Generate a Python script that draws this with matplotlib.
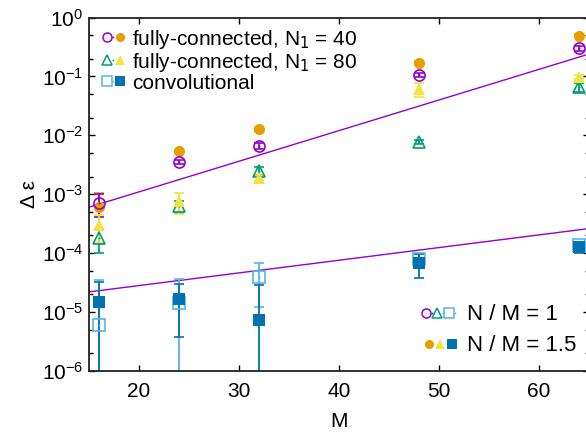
import matplotlib
matplotlib.use("Agg")
import matplotlib.pyplot as plt
import numpy as np
from matplotlib.legend_handler import HandlerTuple
from matplotlib.lines import Line2D
from matplotlib.ticker import LogLocator, FixedLocator, NullFormatter, NullLocator

plt.rcParams['font.family'] = ['Liberation Sans', 'DejaVu Sans']

M = [16, 24, 32, 48, 64]

fc40_nm1 = [7.1e-4, 3.5e-3, 6.6e-3, 0.105, 0.30]
fc40_nm1_err = [3.0e-4, 3.0e-4, 8.0e-4, 0.008, 0.025]
fc40_nm15 = [6.0e-4, 5.4e-3, 1.28e-2, 0.17, 0.49]
fc40_nm15_err = [4.5e-4, 3.0e-4, 8.0e-4, 0.01, 0.03]

fc80_nm1 = [1.8e-4, 6.3e-4, 2.5e-3, 7.7e-3, 0.066]
fc80_nm1_err = [8.0e-5, 1.5e-4, 4.0e-4, 5.0e-4, 0.012]
fc80_nm15 = [3.0e-4, 7.6e-4, 1.9e-3, 0.06, 0.097]
fc80_nm15_err = [1.5e-4, 3.0e-4, 2.0e-4, 0.016, 0.008]

conv_nm1 = [6.0e-6, 1.4e-5, 4.0e-5, 8.0e-5, 1.4e-4]
conv_nm1_err = [2.9e-5, 2.2e-5, 2.8e-5, 1.5e-5, 1.5e-5]
conv_nm15 = [1.48e-5, 1.66e-5, 7.3e-6, 6.8e-5, 1.26e-4]
conv_nm15_err = [1.8e-5, 1.28e-5, 2.2e-5, 3.0e-5, 2.5e-5]

# exponential fits: log10(dE) = a + b*M
fit_fc = (-4.0, 0.052)
fit_conv = (-4.98, 0.0215)

purple = '#9400D3'
orange = '#E69F00'
green = '#009E73'
yellow = '#F0E442'
lblue = '#56B4E9'
dblue = '#0072B2'

fig = plt.figure(figsize=(5.86, 4.38), dpi=100)
ax = fig.add_axes([89/586, 1-371/438, 500/586, (371-17.5)/438])

ms = 8

def series(y, e, color, marker, filled):
    y = np.array(y); e = np.array(e)
    lower = np.minimum(e, y - 1e-9)
    ax.errorbar(M, y, yerr=[lower, e], fmt='none', ecolor=color, elinewidth=1.3,
                capsize=3.5, capthick=1.2, zorder=2)
    if filled:
        ax.plot(M, y, linestyle='none', marker=marker, ms=ms, color=color,
                markeredgewidth=0, zorder=3)
    else:
        ax.plot(M, y, linestyle='none', marker=marker, ms=ms, mfc='none', mec=color,
                markeredgewidth=1.2, zorder=3)
        ax.plot(M, y, linestyle='none', marker='o', ms=1.5, color=color,
                markeredgewidth=0, zorder=3)

series(fc40_nm15, fc40_nm15_err, orange, 'o', True)
series(fc40_nm1, fc40_nm1_err, purple, 'o', False)
series(fc80_nm1, fc80_nm1_err, green, '^', False)
series(fc80_nm15, fc80_nm15_err, yellow, '^', True)
series(conv_nm1, conv_nm1_err, lblue, 's', False)
series(conv_nm15, conv_nm15_err, dblue, 's', True)

xs = np.linspace(15, 66, 200)
ax.plot(xs, 10**(fit_fc[0] + fit_fc[1]*xs), color=purple, lw=1.0, zorder=1)
ax.plot(xs, 10**(fit_conv[0] + fit_conv[1]*xs), color=purple, lw=1.0, zorder=1)

ax.set_yscale('log')
ax.set_xlim(15, 65)
ax.set_ylim(1e-6, 1)
ax.xaxis.set_major_locator(FixedLocator([20, 30, 40, 50, 60]))
ax.xaxis.set_minor_locator(NullLocator())
ax.yaxis.set_major_locator(LogLocator(base=10, numticks=10))
ax.yaxis.set_minor_locator(LogLocator(base=10, subs=[2, 5], numticks=20))
ax.yaxis.set_minor_formatter(NullFormatter())
ax.tick_params(which='both', direction='in', top=True, right=True, labelsize=15, colors='black')
ax.tick_params(which='major', length=4.5, width=1.0)
ax.tick_params(which='minor', length=3, width=1.0)
ax.tick_params(axis='x', pad=8)
ax.tick_params(axis='y', pad=4)
for s in ax.spines.values():
    s.set_linewidth(1.3)
    s.set_color('#222222')

ax.set_xlabel('M', fontsize=15, labelpad=8)
ax.set_ylabel('Δ ε', fontsize=15, labelpad=2)

def mk(marker, color, filled):
    if filled:
        return Line2D([], [], linestyle='none', marker=marker, ms=6.5, color=color, markeredgewidth=0)
    return (Line2D([], [], linestyle='none', marker=marker, ms=6.5, mfc='none', mec=color, markeredgewidth=1.1),
            Line2D([], [], linestyle='none', marker='o', ms=1.3, color=color, markeredgewidth=0))

h1 = [(mk('o', purple, False), mk('o', orange, True)),
      (mk('^', green, False), mk('^', yellow, True)),
      (mk('s', lblue, False), mk('s', dblue, True))]
l1 = ['fully-connected, N$_1$ = 40', 'fully-connected, N$_1$ = 80', 'convolutional']
leg1 = ax.legend(h1, l1, loc='upper left', frameon=False, fontsize=15,
                 handler_map={tuple: HandlerTuple(ndivide=None, pad=0)},
                 handlelength=1.0, handletextpad=0.3, labelspacing=0.0,
                 borderaxespad=0.0, bbox_to_anchor=(0.015, 0.995))
ax.add_artist(leg1)

h2 = [(mk('o', purple, False), mk('^', green, False), mk('s', lblue, False)),
      (mk('o', orange, True), mk('^', yellow, True), mk('s', dblue, True))]
l2 = ['N / M = 1', 'N / M = 1.5']
ax.legend(h2, l2, loc='lower right', frameon=False, fontsize=16,
          handler_map={tuple: HandlerTuple(ndivide=None, pad=0)},
          handlelength=1.6, handletextpad=0.4, labelspacing=0.45,
          bbox_to_anchor=(1.015, -0.015))

fig.savefig('out.png', dpi=100)
